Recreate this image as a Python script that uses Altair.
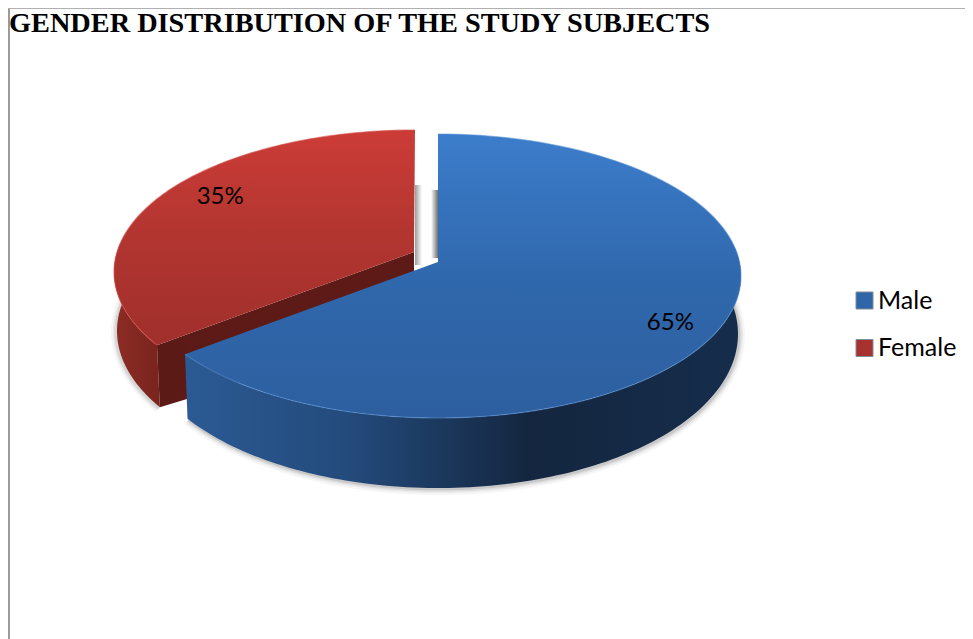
import numpy as np
import pandas as pd
import altair as alt

categories = ["Male", "Female"]
shares = [65, 35]
labels = ["65%", "35%"]
title_text = "GENDER DISTRIBUTION OF THE STUDY SUBJECTS"

W, H = 957, 631
X = alt.X("x:Q", axis=None, scale=alt.Scale(domain=[8, 8 + W], nice=False, zero=False))
Y = alt.Y("y:Q", axis=None, scale=alt.Scale(domain=[8 + H, 8], nice=False, zero=False))

# ellipse geometry of the tilted pie
BLUE_TOP = dict(cx=438, cy=276, rx=303, ry=142)
BLUE_BOT = dict(cx=438, cy=334, rx=300, ry=154)
RED_TOP = dict(cx=415, cy=272, rx=301, ry=142)
RED_BOT = dict(cx=417, cy=331, rx=300, ry=148)
TILT_BLUE, TILT_RED = 2.6, 5.0


def arc(e, a0, a1, n=120):
    a = np.radians(np.linspace(a0, a1, n))
    return e["cx"] + e["rx"] * np.sin(a), e["cy"] - e["ry"] * np.cos(a)


def frame(xs, ys):
    return pd.DataFrame({"x": xs, "y": ys, "i": np.arange(len(xs))})


def poly(xs, ys, fill, **kw):
    return alt.Chart(frame(xs, ys)).mark_line(fill=fill, strokeWidth=0, interpolate="linear", clip=False, **kw).encode(
        x=X, y=Y, order="i:Q"
    )


def stroke(xs, ys, color, width, opacity=1.0):
    return alt.Chart(frame(xs, ys)).mark_line(color=color, strokeWidth=width, opacity=opacity).encode(
        x=X, y=Y, order="i:Q"
    )


def grad(stops, vertical=True):
    st = [alt.GradientStop(offset=o, color=c) for o, c in stops]
    if vertical:
        return alt.LinearGradient(gradient="linear", stops=st, x1=0, x2=0, y1=0, y2=1)
    return alt.LinearGradient(gradient="linear", stops=st, x1=0, x2=1, y1=0, y2=0)


blue_end = 360 * shares[0] / 100 + TILT_BLUE
red_start = 360 * shares[0] / 100 + TILT_RED

layers = []

# frame lines of the picture
layers.append(stroke([9, 9], [8 + H, 8], "#9a9a9a", 2))
layers.append(stroke([8, 8 + W], [8.5, 8.5], "#b0b0b0", 1))

# soft shadow beneath the pie
bx, by = arc(BLUE_BOT, 75, blue_end)
for w, o in [(12, 0.05), (8, 0.07), (5, 0.1), (2.5, 0.14)]:
    layers.append(stroke(bx + 1, by + 1, "#555555", w, o))
rx_, ry_ = arc(RED_BOT, red_start, 282)
for w, o in [(10, 0.05), (6, 0.08), (3, 0.12)]:
    layers.append(stroke(rx_ - 1, ry_ + 1, "#555555", w, o))

# shadow strips in the gap between the slices
layers.append(poly([415, 422, 422, 415], [185, 185, 265, 265],
                   grad([(0, "#9c9c9c"), (1, "#ffffff")], vertical=False)))
layers.append(poly([431, 438, 438, 431], [190, 190, 258, 258],
                   grad([(0, "#ffffff"), (1, "#6f6f6f")], vertical=False)))

# red outer side
tx, ty = arc(RED_TOP, red_start, 282)
bx2, by2 = arc(RED_BOT, 282, red_start)
layers.append(poly(np.r_[tx, bx2], np.r_[ty, by2],
                   grad([(0, "#8e2c25"), (0.5, "#822821"), (1, "#7a241e")], vertical=False)))

# red cut wall
tipx, tipy = arc(RED_TOP, red_start, red_start, 1)
tipbx, tipby = arc(RED_BOT, red_start, red_start, 1)
layers.append(poly([414, tipx[0], tipbx[0], 414], [252, tipy[0], tipby[0], 330],
                   grad([(0, "#5c1a16"), (1, "#5e1a17")], vertical=False)))

# red top face
ax, ay = arc(RED_TOP, red_start, 360)
layers.append(poly(np.r_[414, ax], np.r_[252, ay],
                   grad([(0, "#cc3c37"), (0.5, "#b23530"), (1, "#a02f2b")])))
layers.append(stroke(ax, ay, "#d4524c", 1.2, 0.6))

# blue outer side
tx, ty = arc(BLUE_TOP, 78, blue_end)
bx2, by2 = arc(BLUE_BOT, blue_end, 78)
layers.append(poly(np.r_[tx, bx2], np.r_[ty, by2],
                   grad([(0, "#2b5a94"), (0.3, "#234a7b"), (0.62, "#14263f"), (1, "#152d4c")], vertical=False)))

# blue top face
ax, ay = arc(BLUE_TOP, 0, blue_end)
layers.append(poly(np.r_[438, ax], np.r_[262, ay],
                   grad([(0, "#3c7dcb"), (0.5, "#3068ad"), (1, "#2d5f9f")])))
layers.append(stroke(ax, ay, "#5b93d8", 1.2, 0.55))

# data labels, placed on the slices
label_angle = [113.3, 309.2]
label_ellipse = [BLUE_TOP, RED_TOP]
lx, ly = [], []
for ang, e in zip(label_angle, label_ellipse):
    a = np.radians(ang)
    lx.append(e["cx"] + 0.835 * e["rx"] * np.sin(a))
    ly.append(e["cy"] - 0.835 * e["ry"] * np.cos(a))
lab = pd.DataFrame({"x": lx, "y": ly, "label": labels})
layers.append(alt.Chart(lab).mark_text(font="Lato", fontSize=24, color="black").encode(x=X, y=Y, text="label:N"))

# legend carrier
leg = pd.DataFrame({"category": categories, "share": shares, "x": [900, 900], "y": [300, 348]})
layers.append(alt.Chart(leg).mark_point(shape="square", filled=True, size=0).encode(
    x=X, y=Y,
    color=alt.Color("category:N",
                    scale=alt.Scale(domain=categories, range=["#2f66a8", "#a8322e"]),
                    legend=alt.Legend(title=None, orient="none", legendX=844, legendY=280, zindex=0,
                                      symbolType="square", symbolSize=289, symbolStrokeColor="#7f8c9a",
                                      symbolStrokeWidth=1, symbolOpacity=1,
                                      labelFont="Lato", labelFontSize=25, labelColor="black",
                                      labelLimit=200, labelOffset=1, rowPadding=21.5,
                                      )),
))

# lighter wedge on each legend swatch
swatch_top = [292.5, 340.5]
for top, tint in zip(swatch_top, ["#62a6ec", "#e0605a"]):
    layers.append(poly([857, 872.5, 864.7], [top, top, top + 8],
                       grad([(0, tint), (1, tint)])))

chart = alt.layer(*layers).properties(
    width=W, height=H, padding=0,
    autosize=alt.AutoSizeParams(type="none"),
    title=alt.TitleParams(title_text, font="Liberation Serif", fontSize=28.3, fontWeight="bold",
                          color="black", anchor="start", frame="group", offset=0, dx=1, dy=56, baseline="alphabetic"),
).configure_view(stroke=None)

chart.save("out.html", embed_options={"renderer": "svg", "actions": False})
